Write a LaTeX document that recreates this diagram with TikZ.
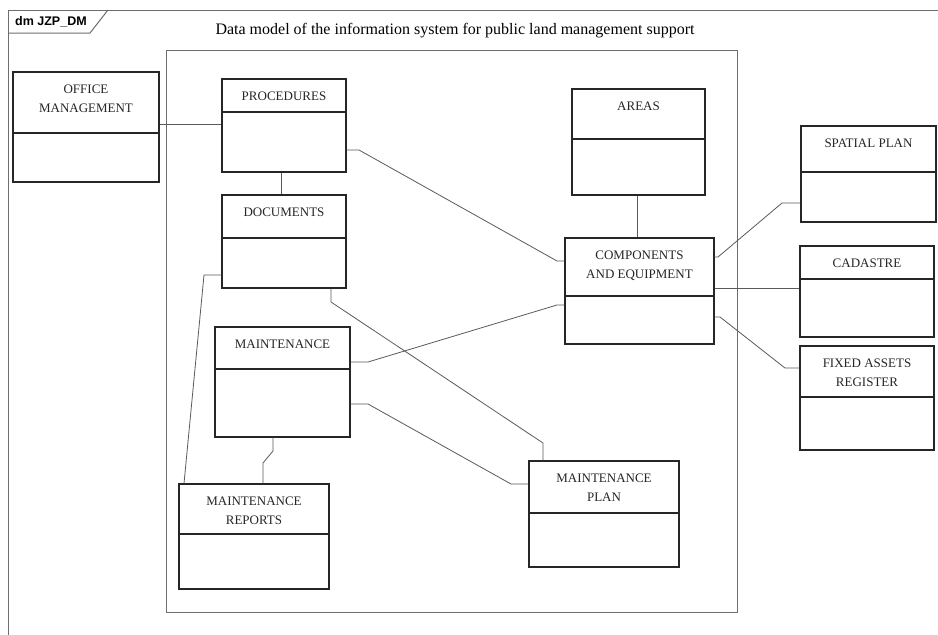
\documentclass[tikz,border=0pt]{standalone}
\usepackage{fontspec}
\setmainfont{Liberation Serif}
\newfontfamily\tagfont{Liberation Sans}
\definecolor{boxline}{HTML}{262626}
\definecolor{connline}{HTML}{5A5A5A}
\definecolor{frameline}{HTML}{6E6E6E}
\tikzset{
  cls/.style={draw=boxline, line width=1.1pt, fill=none, inner sep=0pt, rectangle},
  divline/.style={draw=boxline, line width=1.1pt},
  lbl/.style={font=\fontsize{13}{19}\selectfont, align=center, inner sep=0pt, text=black!85},
  conn/.style={draw=connline, line width=0.8pt},
  frm/.style={draw=frameline, line width=1pt},
}
\newcommand\classbox[7]{%
  \node[cls, minimum width={(#4)-(#2)}, minimum height={(#5)-(#3)}] (#1) at ({((#2)+(#4))/2},{((#3)+(#5))/2}) {};
  \draw[divline] (#1.west |- 0,#6) -- (#1.east |- 0,#6);
  \node[lbl, anchor=north] (#1-t) at ({((#2)+(#4))/2},{(#3)+12.7}) {#7};
}
\begin{document}
\begin{tikzpicture}[x=1pt, y=-1pt]
\useasboundingbox[fill=white] (0,0) rectangle (938,635);
% outer frame
\draw[frm] (938,10) -- (8,10) -- (8,635);
\draw[frm] (8,33) -- (90,33) -- (108,10);
\node[anchor=west, inner sep=0pt, font=\tagfont\bfseries\fontsize{12.5}{14}\selectfont] (tag) at (15,21.5) {dm JZP\_DM};
% title
\node[inner sep=0pt, font=\fontsize{16}{18}\selectfont] (title) at (455,31) {Data model of the information system for public land management support};
% inner frame
\draw[frm] (166.5,50) rectangle (737,612);
% classes
\classbox{office}{13}{72}{159}{182}{133}{OFFICE\\MANAGEMENT}
\classbox{proc}{222}{79}{346}{172}{112}{PROCEDURES}
\classbox{docs}{222}{195}{346}{288}{238}{DOCUMENTS}
\classbox{areas}{572}{89}{705}{195}{139}{AREAS}
\classbox{comp}{565}{238}{714}{344}{296}{COMPONENTS\\AND EQUIPMENT}
\classbox{spatial}{801}{126}{936}{222}{172}{SPATIAL PLAN}
\classbox{cad}{800}{246}{934}{337}{279}{CADASTRE}
\classbox{fixed}{800}{346}{934}{450}{397}{FIXED ASSETS\\REGISTER}
\classbox{maint}{215}{327}{350}{437}{369}{MAINTENANCE}
\classbox{reports}{179}{484}{329}{589}{534}{MAINTENANCE\\REPORTS}
\classbox{plan}{529}{461}{679}{567}{513}{MAINTENANCE\\PLAN}
% connectors
\draw[conn] (office.east |- 0,124) -- (proc.west |- 0,124);
\draw[conn] (proc.east |- 0,150) -- (359,150) -- (557,261) -- (comp.west |- 0,261);
\draw[conn] (proc.south -| 281,0) -- (docs.north -| 281,0);
\draw[conn] (areas.south -| 637,0) -- (comp.north -| 637,0);
\draw[conn] (comp.east |- 0,257) -- (718,257) -- (782,203) -- (spatial.west |- 0,203);
\draw[conn] (comp.east |- 0,288) -- (cad.west |- 0,288);
\draw[conn] (comp.east |- 0,317) -- (720,317) -- (785,368) -- (fixed.west |- 0,368);
\draw[conn] (maint.east |- 0,362) -- (368,362) -- (557,305) -- (comp.west |- 0,305);
\draw[conn] (maint.east |- 0,404) -- (368,404) -- (511,484) -- (plan.west |- 0,484);
\draw[conn] (docs.south -| 331,0) -- (331,302) -- (543,443) -- (plan.north -| 543,0);
\draw[conn] (docs.west |- 0,275) -- (204,275) -- (reports.north -| 184,0);
\draw[conn] (maint.south -| 273,0) -- (273,451) -- (263,463) -- (reports.north -| 263,0);
\end{tikzpicture}
\end{document}
